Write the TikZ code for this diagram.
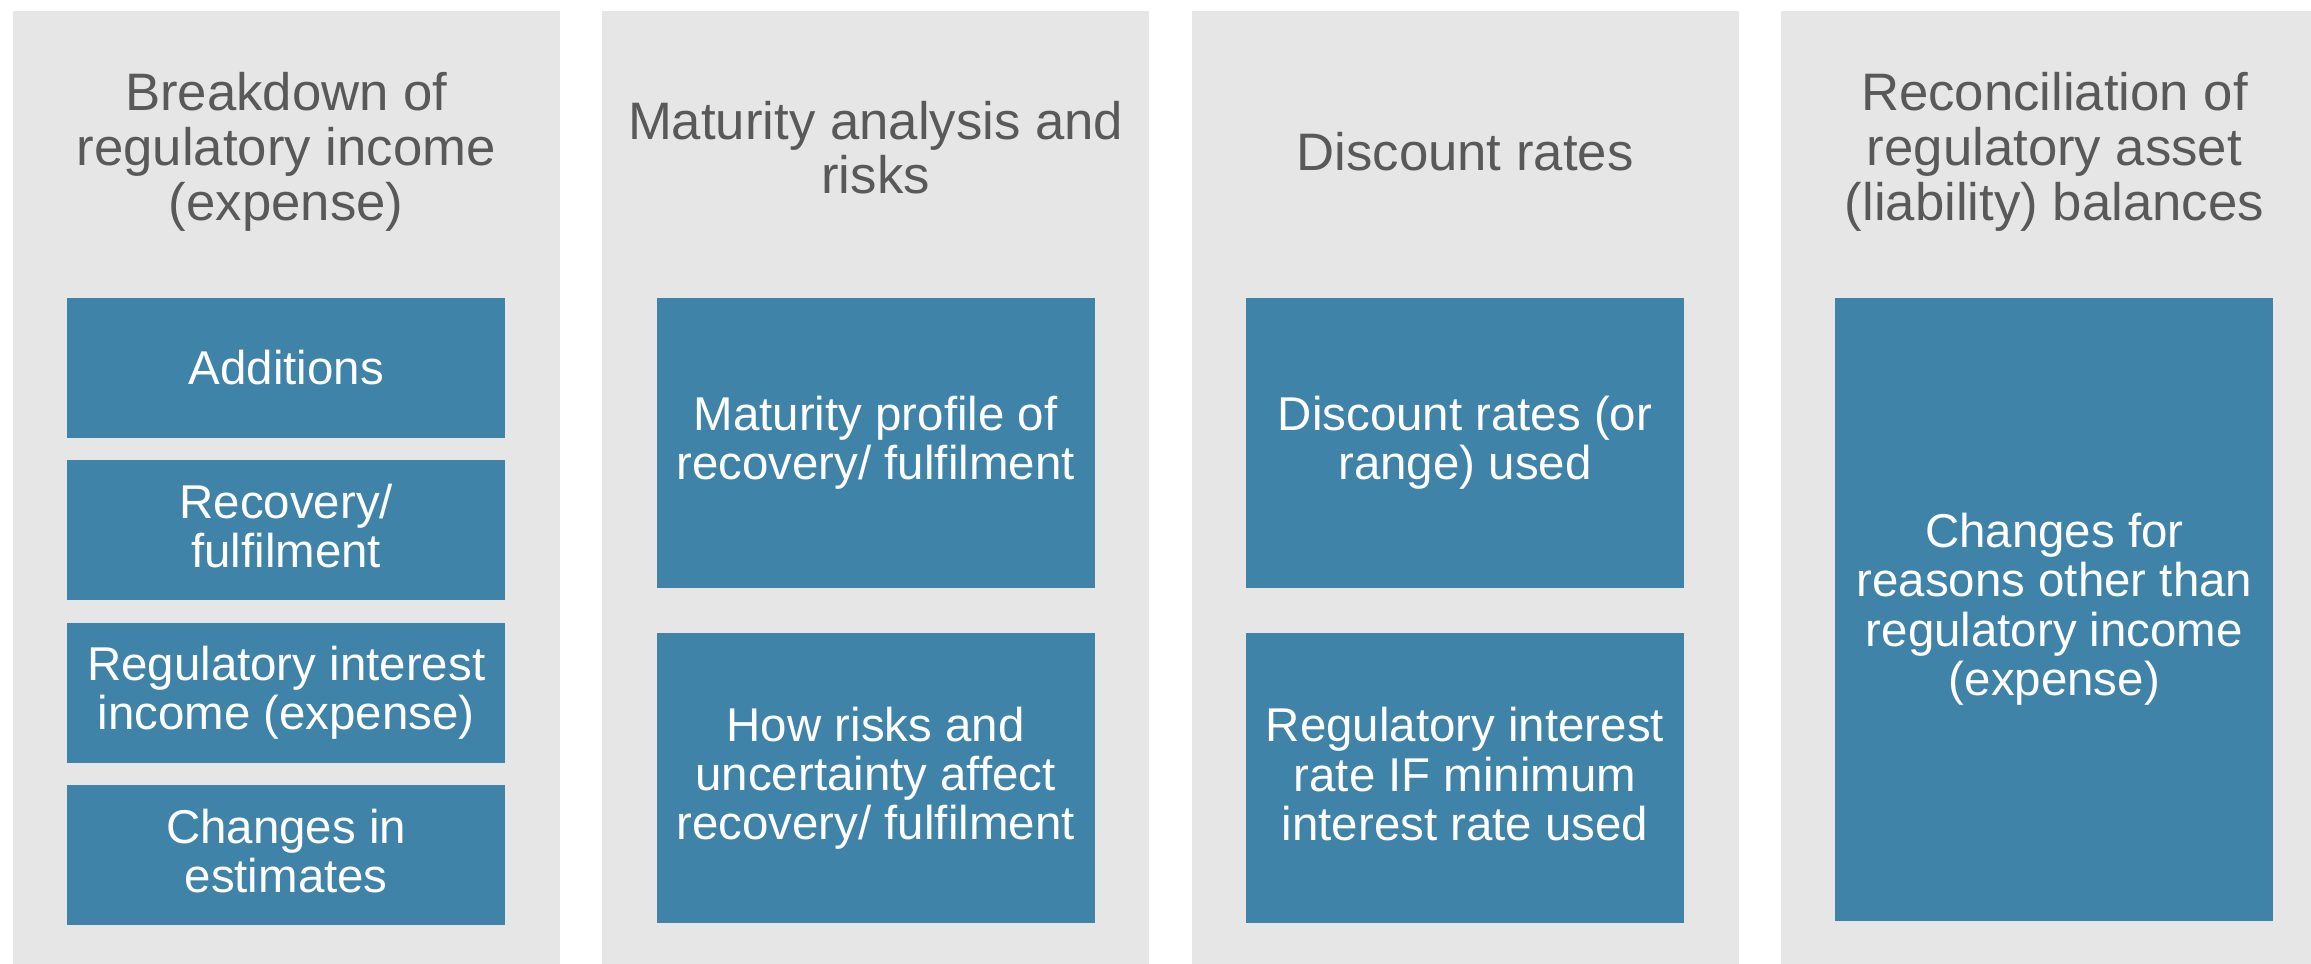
\documentclass[tikz,border=0pt]{standalone}
\usepackage{fontspec}
\setmainfont{Liberation Sans}
\usetikzlibrary{positioning}

\definecolor{panelgray}{HTML}{E7E6E6}
\definecolor{itemblue}{HTML}{4083A9}
\definecolor{titlegray}{HTML}{595959}

% strut com as metricas do Arial (altura + profundidade = entrelinha)
\newcommand{\lnstrut}{\rule[-0.1735em]{0pt}{1.04em}}

\begin{document}
\begin{tikzpicture}[
    node distance=0.21cm,
    panel/.style={rectangle, fill=panelgray, inner sep=0pt, minimum width=5.47cm, minimum height=9.53cm},
    ttl/.style={text=titlegray, align=center, inner sep=0pt,
        font={\fontsize{15}{15.6}\selectfont\lineskiplimit=-\maxdimen},
        execute at begin node=\lnstrut, execute at end node=\lnstrut},
    item/.style={rectangle, fill=itemblue, text=white, inner sep=0pt, minimum width=4.38cm, minimum height=1.40cm, align=center,
        font={\fontsize{13.5}{14.04}\selectfont\lineskiplimit=-\maxdimen},
        execute at begin node=\lnstrut, execute at end node=\lnstrut},
    tall/.style={item, minimum height=2.90cm}
]
\useasboundingbox (0,0) rectangle (23.11,9.63);
\clip (0,0) rectangle (23.11,9.63);

% --- Paineis de fundo ---
\node[panel, anchor=north west] (brk) at (0.12,9.53) {};
\node[panel, right=0.41cm of brk] (mat) {};
\node[panel, right=0.41cm of mat] (disc) {};
\node[panel, right=0.41cm of disc] (rec) {};

% --- Titulos ---
\node[ttl] (brkT) at ([yshift=-1.42cm]brk.north) {Breakdown of\\regulatory income\\(expense)};
\node[ttl] (matT) at ([yshift=-1.42cm]mat.north) {Maturity analysis and\\risks};
\node[ttl] (discT) at ([yshift=-1.42cm]disc.north) {Discount rates};
\node[ttl] (recT) at ([yshift=-1.42cm]rec.north) {Reconciliation of\\regulatory asset\\(liability) balances};

% --- Coluna 1 ---
\node[item, below=2.87cm of brk.north] (brkA) {Additions};
\node[item, below=of brkA] (brkB) {Recovery/\\fulfilment};
\node[item, below=of brkB] (brkC) {Regulatory interest\\income (expense)};
\node[item, below=of brkC] (brkD) {Changes in\\estimates};

% --- Coluna 2 ---
\node[tall, below=2.87cm of mat.north] (matA) {Maturity profile of\\recovery/ fulfilment};
\node[tall, below=0.44cm of matA] (matB) {How risks and\\uncertainty affect\\recovery/ fulfilment};

% --- Coluna 3 ---
\node[tall, below=2.87cm of disc.north] (discA) {Discount rates (or\\range) used};
\node[tall, below=0.44cm of discA] (discB) {Regulatory interest\\rate IF minimum\\interest rate used};

% --- Coluna 4 ---
\node[item, minimum height=6.23cm, below=2.87cm of rec.north] (recA) {Changes for\\reasons other than\\regulatory income\\(expense)};

\end{tikzpicture}
\end{document}
